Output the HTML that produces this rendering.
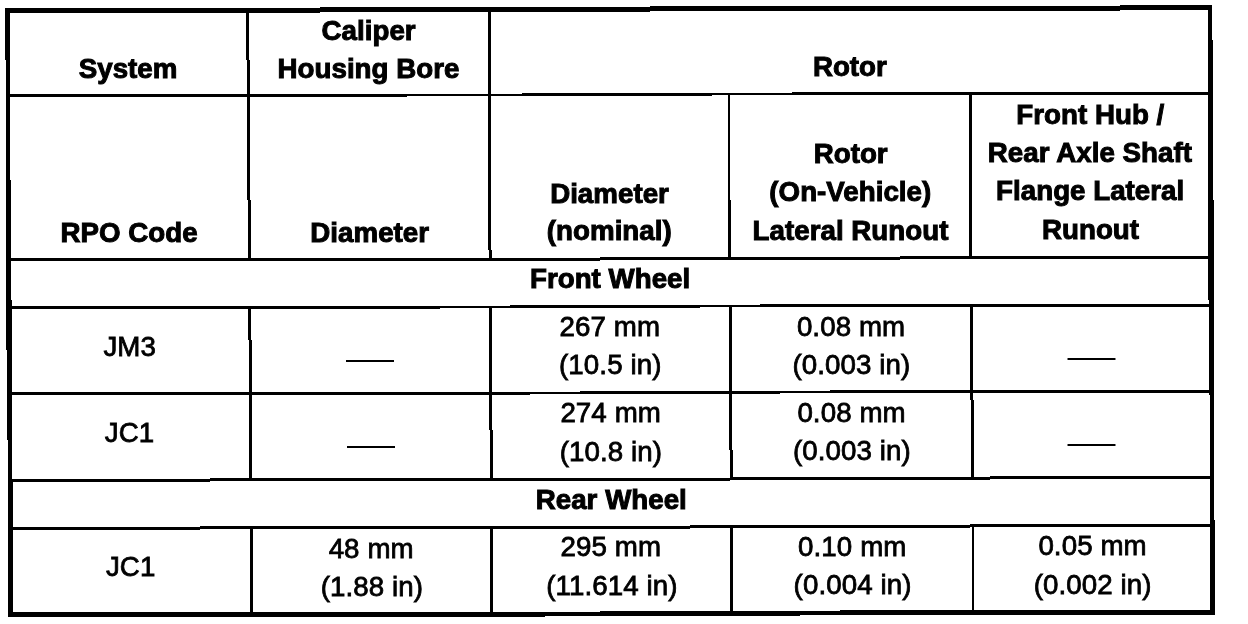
<!DOCTYPE html>
<html lang="en">
<head>
<meta charset="utf-8">
<title>Brake Component Specifications</title>
<style>
html,body{margin:0;padding:0;background:#fff;}
body{width:1248px;height:624px;position:relative;overflow:hidden;font-family:"Liberation Sans",Arial,Helvetica,sans-serif;color:#000;}
.l{position:absolute;background:#000;}
.t{position:absolute;width:400px;margin-left:-200px;text-align:center;white-space:nowrap;font-size:27.7px;line-height:40px;height:40px;-webkit-text-stroke:0.8px #000;letter-spacing:0.1px;}
.b{font-weight:bold;-webkit-text-stroke:1px #000;letter-spacing:0.03px;}
.d{position:absolute;width:200px;margin-left:-106px;text-align:center;white-space:nowrap;font-size:30px;letter-spacing:-12px;line-height:40px;height:40px;}
</style>
</head>
<body>
<div class="l" style="left:5px;top:8px;width:315px;height:5px"></div>
<div class="l" style="left:320px;top:7px;width:330px;height:5px"></div>
<div class="l" style="left:650px;top:6px;width:470px;height:5px"></div>
<div class="l" style="left:1120px;top:5px;width:92px;height:5px"></div>
<div class="l" style="left:8px;top:612px;width:537px;height:5px"></div>
<div class="l" style="left:545px;top:612px;width:55px;height:4px"></div>
<div class="l" style="left:600px;top:611px;width:200px;height:5px"></div>
<div class="l" style="left:800px;top:611px;width:40px;height:4px"></div>
<div class="l" style="left:840px;top:610px;width:375px;height:5px"></div>
<div class="l" style="left:5px;top:8px;width:5px;height:52px"></div>
<div class="l" style="left:6px;top:60px;width:4px;height:120px"></div>
<div class="l" style="left:6px;top:180px;width:5px;height:120px"></div>
<div class="l" style="left:6px;top:300px;width:6px;height:50px"></div>
<div class="l" style="left:7px;top:350px;width:5px;height:90px"></div>
<div class="l" style="left:8px;top:440px;width:4px;height:40px"></div>
<div class="l" style="left:8px;top:480px;width:5px;height:137px"></div>
<div class="l" style="left:1208px;top:5px;width:4px;height:35px"></div>
<div class="l" style="left:1208px;top:40px;width:5px;height:160px"></div>
<div class="l" style="left:1208px;top:200px;width:6px;height:100px"></div>
<div class="l" style="left:1209px;top:300px;width:5px;height:95px"></div>
<div class="l" style="left:1210px;top:395px;width:4px;height:125px"></div>
<div class="l" style="left:1210px;top:520px;width:5px;height:95px"></div>
<div class="l" style="left:8px;top:94px;width:399px;height:3px"></div>
<div class="l" style="left:407px;top:94px;width:115px;height:2px"></div>
<div class="l" style="left:522px;top:93px;width:190px;height:3px"></div>
<div class="l" style="left:712px;top:93px;width:80px;height:2px"></div>
<div class="l" style="left:792px;top:92px;width:419px;height:3px"></div>
<div class="l" style="left:8px;top:258px;width:592px;height:3px"></div>
<div class="l" style="left:600px;top:257px;width:300px;height:2.5px"></div>
<div class="l" style="left:900px;top:256px;width:311px;height:3px"></div>
<div class="l" style="left:8px;top:306px;width:432px;height:3px"></div>
<div class="l" style="left:440px;top:306px;width:70px;height:2px"></div>
<div class="l" style="left:510px;top:305px;width:190px;height:3px"></div>
<div class="l" style="left:700px;top:305px;width:60px;height:2px"></div>
<div class="l" style="left:760px;top:304px;width:451px;height:3px"></div>
<div class="l" style="left:8px;top:392px;width:522px;height:3px"></div>
<div class="l" style="left:530px;top:392px;width:50px;height:2px"></div>
<div class="l" style="left:580px;top:391px;width:200px;height:3px"></div>
<div class="l" style="left:780px;top:391px;width:50px;height:2px"></div>
<div class="l" style="left:830px;top:390px;width:381px;height:3px"></div>
<div class="l" style="left:8px;top:479px;width:202px;height:3px"></div>
<div class="l" style="left:210px;top:478px;width:520px;height:3px"></div>
<div class="l" style="left:730px;top:477px;width:260px;height:3px"></div>
<div class="l" style="left:990px;top:476px;width:221px;height:3px"></div>
<div class="l" style="left:8px;top:527px;width:192px;height:3px"></div>
<div class="l" style="left:200px;top:526px;width:490px;height:3px"></div>
<div class="l" style="left:690px;top:525px;width:280px;height:3px"></div>
<div class="l" style="left:970px;top:524px;width:241px;height:3px"></div>
<div class="l" style="left:246px;top:10px;width:3px;height:50px"></div>
<div class="l" style="left:247px;top:60px;width:3px;height:140px"></div>
<div class="l" style="left:248px;top:200px;width:3px;height:60px"></div>
<div class="l" style="left:248px;top:307px;width:3px;height:33px"></div>
<div class="l" style="left:249px;top:340px;width:3px;height:140px"></div>
<div class="l" style="left:250px;top:527px;width:3px;height:87px"></div>
<div class="l" style="left:488px;top:10px;width:3px;height:240px"></div>
<div class="l" style="left:489px;top:250px;width:3px;height:10px"></div>
<div class="l" style="left:489px;top:306px;width:3px;height:124px"></div>
<div class="l" style="left:490px;top:430px;width:3px;height:50px"></div>
<div class="l" style="left:490px;top:527px;width:3px;height:87px"></div>
<div class="l" style="left:728px;top:94px;width:2px;height:106px"></div>
<div class="l" style="left:728px;top:200px;width:3px;height:59px"></div>
<div class="l" style="left:729px;top:306px;width:3px;height:144px"></div>
<div class="l" style="left:730px;top:450px;width:3px;height:29px"></div>
<div class="l" style="left:730px;top:526px;width:3px;height:87px"></div>
<div class="l" style="left:969px;top:93px;width:3px;height:165px"></div>
<div class="l" style="left:970px;top:305px;width:3px;height:95px"></div>
<div class="l" style="left:971px;top:400px;width:3px;height:78px"></div>
<div class="l" style="left:972px;top:525px;width:2px;height:87px"></div>
<div class="t b" style="left:128.1px;top:48.75px">System</div>
<div class="t b" style="left:368.6px;top:10.75px">Caliper</div>
<div class="t b" style="left:368.5px;top:48.75px">Housing Bore</div>
<div class="t b" style="left:849.9px;top:46.75px">Rotor</div>
<div class="t b" style="left:129.1px;top:212.75px">RPO Code</div>
<div class="t b" style="left:369.7px;top:212.75px">Diameter</div>
<div class="t b" style="left:609.5px;top:173.75px">Diameter</div>
<div class="t b" style="left:609.3px;top:210.75px">(nominal)</div>
<div class="t b" style="left:850.7px;top:133.75px">Rotor</div>
<div class="t b" style="left:850.3px;top:171.75px">(On-Vehicle)</div>
<div class="t b" style="left:850.5px;top:210.75px">Lateral Runout</div>
<div class="t b" style="left:1090.3px;top:94.75px">Front Hub /</div>
<div class="t b" style="left:1089.9px;top:132.75px">Rear Axle Shaft</div>
<div class="t b" style="left:1090.2px;top:170.75px">Flange Lateral</div>
<div class="t b" style="left:1090.5px;top:209.75px">Runout</div>
<div class="t b" style="left:610.1px;top:258.75px">Front Wheel</div>
<div class="t" style="left:129.7px;top:326.75px">JM3</div>
<div class="t" style="left:609.9px;top:306.75px">267 mm</div>
<div class="t" style="left:610.3px;top:344.75px">(10.5 in)</div>
<div class="t" style="left:851.1px;top:306.75px">0.08 mm</div>
<div class="t" style="left:851.4px;top:344.75px">(0.003 in)</div>
<div class="t" style="left:129.6px;top:412.75px">JC1</div>
<div class="t" style="left:610.7px;top:392.75px">274 mm</div>
<div class="t" style="left:610.9px;top:431.75px">(10.8 in)</div>
<div class="t" style="left:851.6px;top:392.75px">0.08 mm</div>
<div class="t" style="left:851.9px;top:430.75px">(0.003 in)</div>
<div class="t b" style="left:611.3px;top:479.75px">Rear Wheel</div>
<div class="t" style="left:130.7px;top:546.75px">JC1</div>
<div class="t" style="left:371.2px;top:528.75px">48 mm</div>
<div class="t" style="left:371.9px;top:566.75px">(1.88 in)</div>
<div class="t" style="left:610.9px;top:526.75px">295 mm</div>
<div class="t" style="left:612px;top:565.75px">(11.614 in)</div>
<div class="t" style="left:852.3px;top:526.75px">0.10 mm</div>
<div class="t" style="left:852.6px;top:564.75px">(0.004 in)</div>
<div class="t" style="left:1092.6px;top:525.75px">0.05 mm</div>
<div class="t" style="left:1092.7px;top:564.75px">(0.002 in)</div>
<div class="d" style="left:370px;top:338.75px">&mdash;&mdash;</div>
<div class="d" style="left:1091.5px;top:336.75px">&mdash;&mdash;</div>
<div class="d" style="left:371px;top:424.75px">&mdash;&mdash;</div>
<div class="d" style="left:1091.5px;top:422.75px">&mdash;&mdash;</div>
</body>
</html>
